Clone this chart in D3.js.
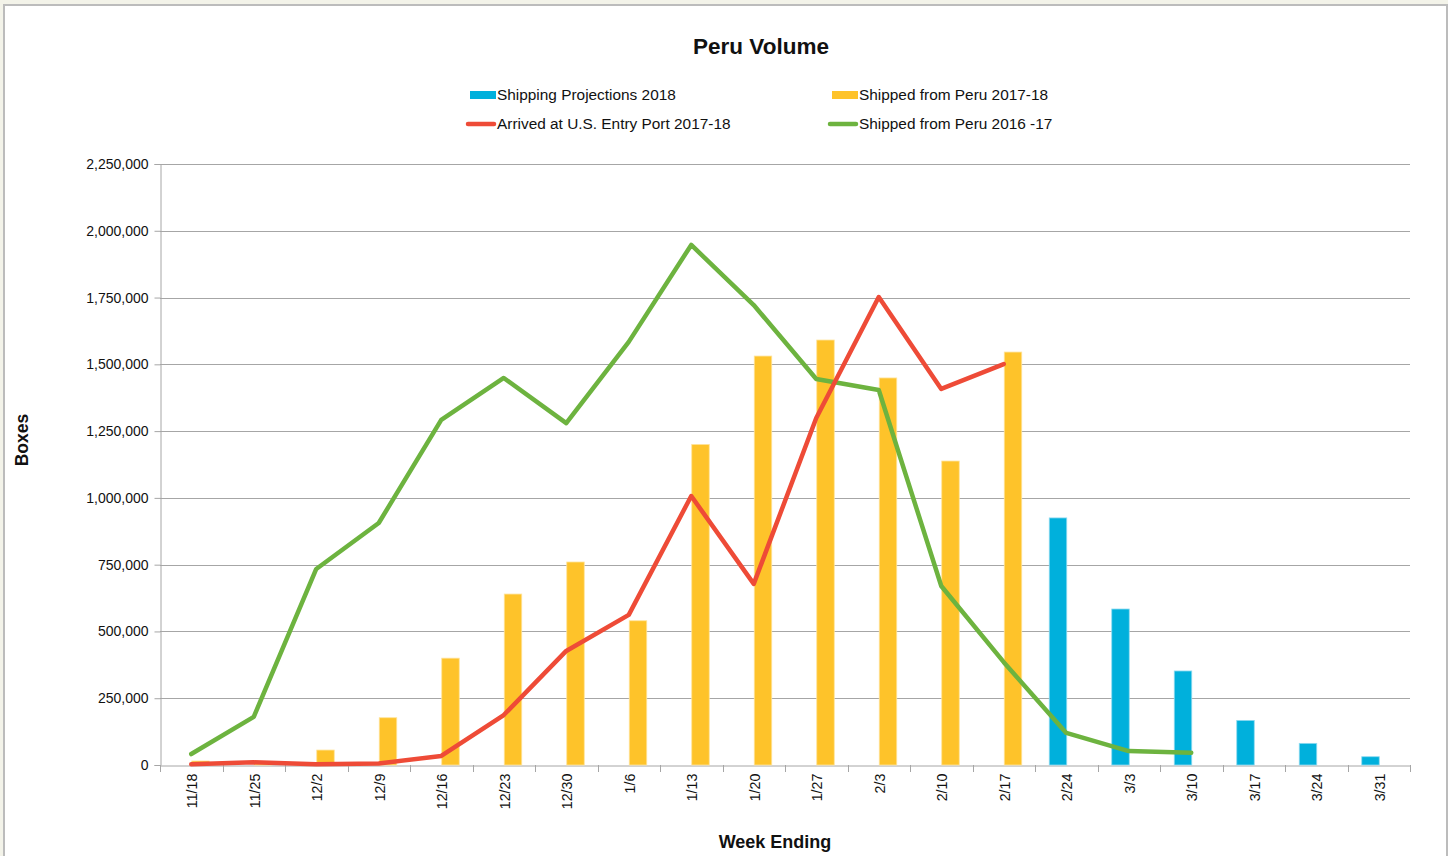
<!DOCTYPE html>
<html><head><meta charset="utf-8">
<script src="https://cdn.jsdelivr.net/npm/d3@7"></script>
<style>
body{margin:0;background:#f3f3e9;}
svg{display:block;font-family:"Liberation Sans",Arial,Helvetica,sans-serif;}
</style></head><body>
<svg id="c" width="1448" height="856"></svg>
<script>
const categories = ["11/18","11/25","12/2","12/9","12/16","12/23","12/30","1/6","1/13","1/20","1/27","2/3","2/10","2/17","2/24","3/3","3/10","3/17","3/24","3/31"];
const projections2018 = [null,null,null,null,null,null,null,null,null,null,null,null,null,null,925000,584000,352000,167000,81000,31000];
const shipped1718 = [15000,12000,56000,177000,400000,640000,760000,540000,1200000,1531000,1591000,1449000,1138000,1546000,null,null,null,null,null,null];
const arrived1718 = [3000,10000,3000,6000,34000,187000,427000,562000,1007000,678000,1299000,1752000,1408000,1501000,null,null,null,null,null,null];
const shipped1617 = [41000,180000,734000,906000,1292000,1449000,1280000,1584000,1947000,1722000,1445000,1404000,670000,385000,120000,52000,46000,null,null,null];
const yTicks = [0,250000,500000,750000,1000000,1250000,1500000,1750000,2000000,2250000];

const svg = d3.select("#c");
svg.append("rect").attr("x",4).attr("y",5).attr("width",1443).attr("height",860)
  .attr("fill","#fff").attr("stroke","#bcbcbc").attr("stroke-width",2);

const L=160,R=1410,T=164,B=765;
const x = d3.scaleBand().domain(categories).range([L,R]).paddingInner(0).paddingOuter(0);
const y = d3.scaleLinear().domain([0,2250000]).range([B,T]);
const bw = 17.5;

svg.append("g").selectAll("line").data(yTicks.filter(d=>d>0)).join("line")
  .attr("x1",L).attr("x2",R).attr("y1",d=>Math.round(y(d))+0.5).attr("y2",d=>Math.round(y(d))+0.5)
  .attr("stroke","#a6a6a6").attr("stroke-width",1);

const ya = svg.append("g").attr("transform",`translate(${L+0.5},0)`)
  .call(d3.axisLeft(y).tickValues(yTicks).tickFormat(d3.format(",")).tickSize(6).tickPadding(6));
ya.select(".domain").attr("stroke","#a6a6a6");
ya.selectAll(".tick line").attr("stroke","#a6a6a6");
ya.selectAll("text").attr("font-size",14).attr("fill","#111").attr("font-family","Liberation Sans, Arial, sans-serif");

const xa = svg.append("g").attr("transform",`translate(0,${B+0.5})`)
  .call(d3.axisBottom(x).tickSize(0).tickPadding(0));
xa.select(".domain").attr("stroke","#a6a6a6");
xa.selectAll(".tick text").attr("font-size",14.3).attr("fill","#111")
  .attr("font-family","Liberation Sans, Arial, sans-serif")
  .attr("transform","translate(1,8) rotate(-90)").attr("text-anchor","end").attr("dy","0.35em").attr("x",0).attr("y",0);
const bounds = categories.map((c,i)=>x(c)).concat([R]);
svg.append("g").selectAll("line").data(bounds).join("line")
  .attr("x1",d=>Math.round(d)+0.5).attr("x2",d=>Math.round(d)+0.5).attr("y1",B).attr("y2",B+7)
  .attr("stroke","#a6a6a6");

const cx = c => x(c)+x.bandwidth()/2;
svg.append("g").selectAll("rect").data(categories.map((c,i)=>({c,v:projections2018[i]})).filter(d=>d.v!=null)).join("rect")
  .attr("x",d=>cx(d.c)-bw+0.5).attr("width",bw).attr("y",d=>y(d.v)).attr("height",d=>B-y(d.v))
  .attr("fill","#00b0dc").attr("stroke","#8fdaf0").attr("stroke-width",0.8);
svg.append("g").selectAll("rect").data(categories.map((c,i)=>({c,v:shipped1718[i]})).filter(d=>d.v!=null)).join("rect")
  .attr("x",d=>cx(d.c)+0.5).attr("width",bw).attr("y",d=>y(d.v)).attr("height",d=>B-y(d.v))
  .attr("fill","#fec32a").attr("stroke","#ffe39a").attr("stroke-width",0.8);

const line = d3.line().defined(d=>d.v!=null).x(d=>cx(d.c)).y(d=>y(d.v));
function drawLine(arr,color){
  svg.append("path").datum(categories.map((c,i)=>({c,v:arr[i]})))
    .attr("d",line).attr("fill","none").attr("stroke",color).attr("stroke-width",4.5)
    .attr("stroke-linejoin","round").attr("stroke-linecap","round");
}
drawLine(shipped1617,"#6db33f");
drawLine(arrived1718,"#ee4b37");

svg.append("text").attr("x",761).attr("y",54).attr("text-anchor","middle")
  .attr("font-size",22.5).attr("font-weight","bold").attr("fill","#111").text("Peru Volume");

const legend = [
  {name:"Shipping Projections 2018",type:"bar",color:"#00b0dc",x:470,y:95},
  {name:"Shipped from Peru 2017-18",type:"bar",color:"#fec32a",x:832,y:95},
  {name:"Arrived at U.S. Entry Port 2017-18",type:"line",color:"#ee4b37",x:470,y:124},
  {name:"Shipped from Peru 2016 -17",type:"line",color:"#6db33f",x:832,y:124}
];
const lg = svg.append("g").selectAll("g").data(legend).join("g");
lg.filter(d=>d.type==="bar").append("rect").attr("x",d=>d.x).attr("y",d=>d.y-4).attr("width",26).attr("height",8).attr("fill",d=>d.color);
lg.filter(d=>d.type==="line").append("line").attr("x1",d=>d.x-2).attr("x2",d=>d.x+24).attr("y1",d=>d.y).attr("y2",d=>d.y)
  .attr("stroke",d=>d.color).attr("stroke-width",4.5).attr("stroke-linecap","round");
lg.append("text").attr("x",d=>d.x+27).attr("y",d=>d.y).attr("dy","0.35em").attr("font-size",15.4).attr("fill","#111").text(d=>d.name);

svg.append("text").attr("transform","translate(28,440) rotate(-90)").attr("text-anchor","middle")
  .attr("font-size",17.5).attr("font-weight","bold").attr("fill","#111").text("Boxes");
svg.append("text").attr("x",775).attr("y",848).attr("text-anchor","middle")
  .attr("font-size",18).attr("font-weight","bold").attr("fill","#111").text("Week Ending");
</script></body></html>
